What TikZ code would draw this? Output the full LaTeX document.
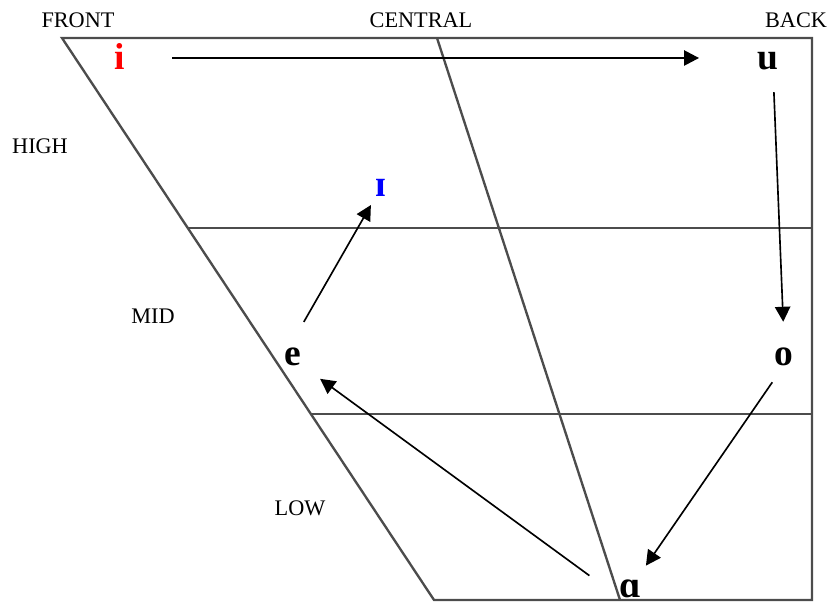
\documentclass[tikz,border=0pt]{standalone}
\usepackage{fontspec}
\setmainfont{Liberation Serif}
\usetikzlibrary{arrows.meta, positioning}

\begin{document}
\begin{tikzpicture}[
    x=0.3mm, y=-0.3mm,
    grid/.style={line width=2pt, draw=black!70},
    lbl/.style={anchor=base, inner sep=0pt, font=\fontsize{19}{19}\selectfont},
    vowel/.style={anchor=base, inner sep=0pt, text height=7.2mm, text depth=0pt, font=\fontsize{32}{32}\selectfont\bfseries},
    arr/.style={-{Triangle[length=4.5mm, width=4.6mm]}, line width=1.4pt}
]
\useasboundingbox (0,0) rectangle (834,603);

% chart outline
\draw[grid] (434,600) -- (62,38) -- (812,38) -- (812,600) -- cycle;
\draw[grid] (437,38) -- (620,600);
\draw[grid] (188,228) -- (812,228);
\draw[grid] (311,414) -- (812,414);

% axis labels
\node[lbl] (front) at (78,28) {FRONT};
\node[lbl] (central) at (421,28) {CENTRAL};
\node[lbl] (back) at (796,28) {BACK};
\node[lbl] (high) at (40,154) {HIGH};
\node[lbl] (mid) at (153,323) {MID};
\node[lbl] (low) at (300,515) {LOW};

% vowels
\node[vowel, text=red] (i) at (120,70) {i};
\node[vowel] (u) at (768,70) {u};
\node[vowel, text=blue] (ih) at (381,197) {ɪ};
\node[vowel] (e) at (293,365) {e};
\node[vowel] (o) at (784,365) {o};
\node[vowel] (a) at (630,597) {ɑ};

\draw[arr, shorten <=14mm, shorten >=17.5mm] (i) -- (u);
\draw[arr, shorten <=6.6mm, shorten >=5.7mm] ([xshift=1.5mm]u.south) -- (o.north);
\draw[arr, shorten <=6.2mm, shorten >=2.6mm] (o.south) -- (a.north east);
\draw[arr, shorten <=11mm, shorten >=6.9mm] (a.south west) -- (e.south east);
\draw[arr, shorten <=6.5mm, shorten >=2.7mm] (e.north) -- (ih.south west);
\end{tikzpicture}
\end{document}
